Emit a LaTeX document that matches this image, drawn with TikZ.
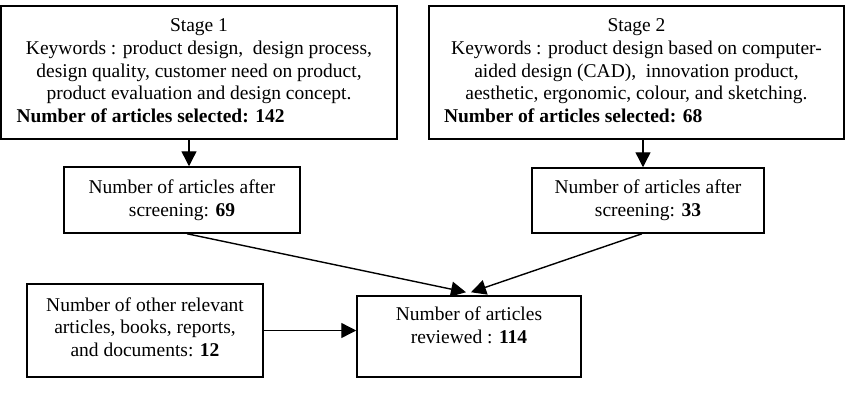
\documentclass[tikz,border=0pt]{standalone}
\usepackage{fontspec}
\setmainfont{Liberation Serif}
\usetikzlibrary{arrows.meta,calc}
\begin{document}
\begin{tikzpicture}[x=1pt,y=-1pt,
  box/.style={draw,line width=1.5pt,inner sep=0pt,align=center,
    font=\fontsize{19.5}{22.75}\selectfont},
  arr/.style={line width=1.4pt,-{Triangle[length=15pt,width=15pt]}}]
\useasboundingbox (0,0) rectangle (852,400);
\node[box,minimum width=396pt,minimum height=133pt] (s1) at (199,72.5)
  {Stage 1\\Keywords : product design,~ design process,\\design quality, customer need on product,\\product evaluation and design concept.\\\makebox[365pt][l]{\bfseries Number of articles selected: 142}\rule[-3.5pt]{0pt}{3.5pt}};
\node[box,minimum width=415pt,minimum height=133pt] (s2) at (636.5,72.5)
  {Stage 2\\Keywords : product design based on computer-\\aided design (CAD),~ innovation product,\\aesthetic, ergonomic, colour, and sketching.\\\makebox[385pt][l]{\bfseries Number of articles selected: 68}\rule[-3.5pt]{0pt}{3.5pt}};
\node[box,minimum width=236pt,minimum height=66pt] (a1) at (182,200)
  {Number of articles after\\screening: \textbf{69}};
\node[box,minimum width=232pt,minimum height=65pt] (a2) at (648,200.5)
  {Number of articles after\\screening: \textbf{33}};
\node[box,minimum width=236pt,minimum height=93pt] (o) at (145,330.5)
  {Number of other relevant\\articles, books, reports,\\and documents: \textbf{12}\rule[-7pt]{0pt}{7pt}};
\node[box,minimum width=224pt,minimum height=81pt] (r) at (469,336.5)
  {Number of articles\\reviewed : \textbf{114}\rule[-23pt]{0pt}{23pt}};
\coordinate (tip) at ($(r.north)+(0,-3)$);
\draw[arr] (s1.south -| 189,0) -- (a1.north -| 189,0);
\draw[arr] (s2.south -| 643,0) -- (a2.north -| 643,0);
\draw[arr] (a1.south -| 187,0) -- ($(tip)+(-3,0)$);
\draw[arr] (a2.south -| 642,0) -- ($(tip)+(2,0)$);
\draw[arr] (o.east) -- (o.east -| r.west);
\end{tikzpicture}
\end{document}
